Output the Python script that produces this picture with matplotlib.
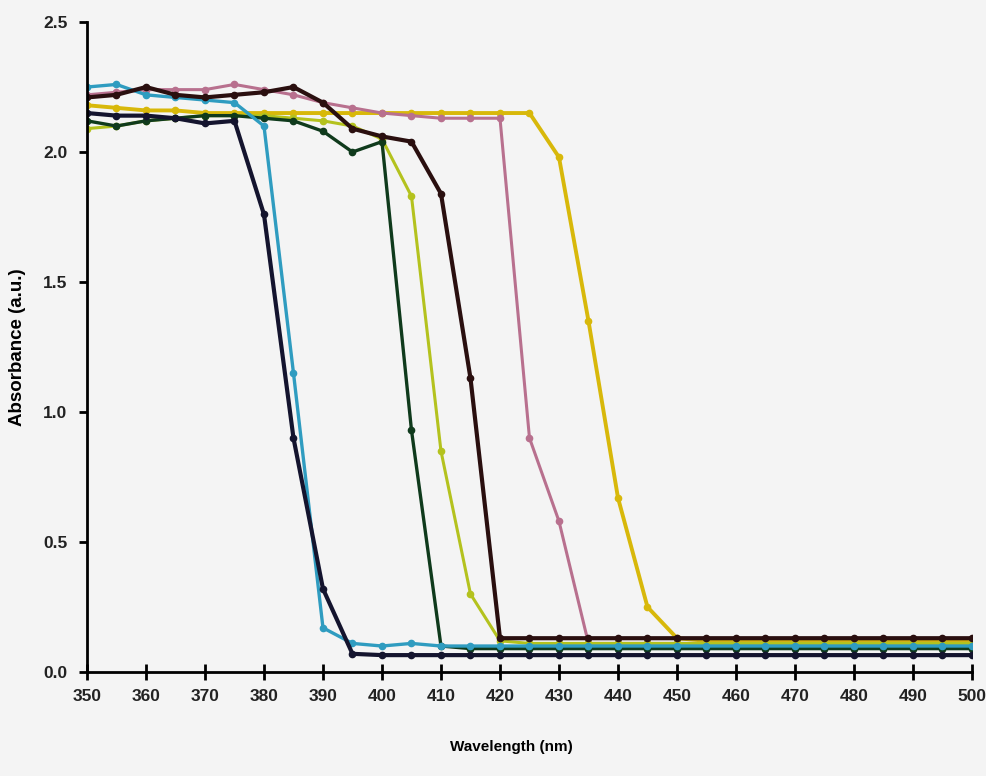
import numpy as np
import matplotlib.pyplot as plt

wl = np.arange(350, 505, 5)

navy = [2.15, 2.14, 2.14, 2.13, 2.11, 2.12, 1.76, 0.90, 0.32, 0.07, 0.065,
        0.065, 0.065, 0.065, 0.065, 0.065, 0.065, 0.065, 0.065, 0.065, 0.065,
        0.065, 0.065, 0.065, 0.065, 0.065, 0.065, 0.065, 0.065, 0.065, 0.065]
cyan = [2.25, 2.26, 2.22, 2.21, 2.20, 2.19, 2.10, 1.15, 0.17, 0.11, 0.10,
        0.11, 0.10, 0.10, 0.10, 0.10, 0.10, 0.10, 0.10, 0.10, 0.10,
        0.10, 0.10, 0.10, 0.10, 0.10, 0.10, 0.10, 0.10, 0.10, 0.10]
green = [2.12, 2.10, 2.12, 2.13, 2.14, 2.14, 2.13, 2.12, 2.08, 2.00, 2.04,
         0.93, 0.10, 0.09, 0.09, 0.09, 0.09, 0.09, 0.09, 0.09, 0.09,
         0.09, 0.09, 0.09, 0.09, 0.09, 0.09, 0.09, 0.09, 0.09, 0.09]
olive = [2.09, 2.10, 2.12, 2.13, 2.14, 2.14, 2.14, 2.13, 2.12, 2.10, 2.05,
         1.83, 0.85, 0.30, 0.12, 0.11, 0.11, 0.11, 0.11, 0.11, 0.11,
         0.11, 0.11, 0.11, 0.11, 0.11, 0.11, 0.11, 0.11, 0.11, 0.11]
brown = [2.21, 2.22, 2.25, 2.22, 2.21, 2.22, 2.23, 2.25, 2.19, 2.09, 2.06,
         2.04, 1.84, 1.13, 0.13, 0.13, 0.13, 0.13, 0.13, 0.13, 0.13,
         0.13, 0.13, 0.13, 0.13, 0.13, 0.13, 0.13, 0.13, 0.13, 0.13]
pink = [2.22, 2.23, 2.24, 2.24, 2.24, 2.26, 2.24, 2.22, 2.19, 2.17, 2.15,
        2.14, 2.13, 2.13, 2.13, 0.90, 0.58, 0.11, 0.11, 0.11, 0.11,
        0.11, 0.11, 0.11, 0.11, 0.11, 0.11, 0.11, 0.11, 0.11, 0.11]
gold = [2.18, 2.17, 2.16, 2.16, 2.15, 2.15, 2.15, 2.15, 2.15, 2.15, 2.15,
        2.15, 2.15, 2.15, 2.15, 2.15, 1.98, 1.35, 0.67, 0.25, 0.13,
        0.12, 0.12, 0.12, 0.12, 0.12, 0.12, 0.12, 0.12, 0.12, 0.12]

series = [
    (gold, "#d8b80a", 2.8),
    (pink, "#b8708e", 2.2),
    (olive, "#b4c21e", 2.2),
    (green, "#0f3a1c", 2.4),
    (cyan, "#2f9cc0", 2.4),
    (brown, "#2a0f0f", 3.0),
    (navy, "#14142e", 3.0),
]

font = ["Liberation Sans", "DejaVu Sans"]

fig = plt.figure(figsize=(9.86, 7.76), dpi=100, facecolor="#f4f4f4")
ax = fig.add_axes([0.0882, 0.134, 0.8976, 0.8376])
ax.set_facecolor("#f4f4f4")

for ys, c, lw in series:
    ax.plot(wl, ys, color=c, lw=lw, marker="o", ms=4.5, solid_joinstyle="round")

ax.set_xlim(350, 500)
ax.set_ylim(0, 2.5)
ax.set_xticks(np.arange(350, 510, 10))
ax.set_yticks([0.0, 0.5, 1.0, 1.5, 2.0, 2.5])
ax.set_yticklabels(["0.0", "0.5", "1.0", "1.5", "2.0", "2.5"])

for s in ["top", "right"]:
    ax.spines[s].set_visible(False)
for s in ["left", "bottom"]:
    ax.spines[s].set_linewidth(2)
    ax.spines[s].set_color("black")

ax.tick_params(axis="x", direction="inout", length=12, width=2, pad=6)
ax.tick_params(axis="y", direction="out", length=6, width=2, pad=8)
for lab in ax.get_xticklabels() + ax.get_yticklabels():
    lab.set_family(font)
    lab.set_fontweight("bold")
    lab.set_fontsize(12.5)
    lab.set_color("#222222")

ax.set_xlabel("Wavelength (nm)", family=font, fontweight="bold", fontsize=11, labelpad=22)
ax.xaxis.set_label_coords(0.48, -0.105)
ax.set_ylabel("Absorbance (a.u.)", family=font, fontweight="bold", fontsize=13.5, labelpad=12)

plt.savefig("out.png", dpi=100, facecolor=fig.get_facecolor())
